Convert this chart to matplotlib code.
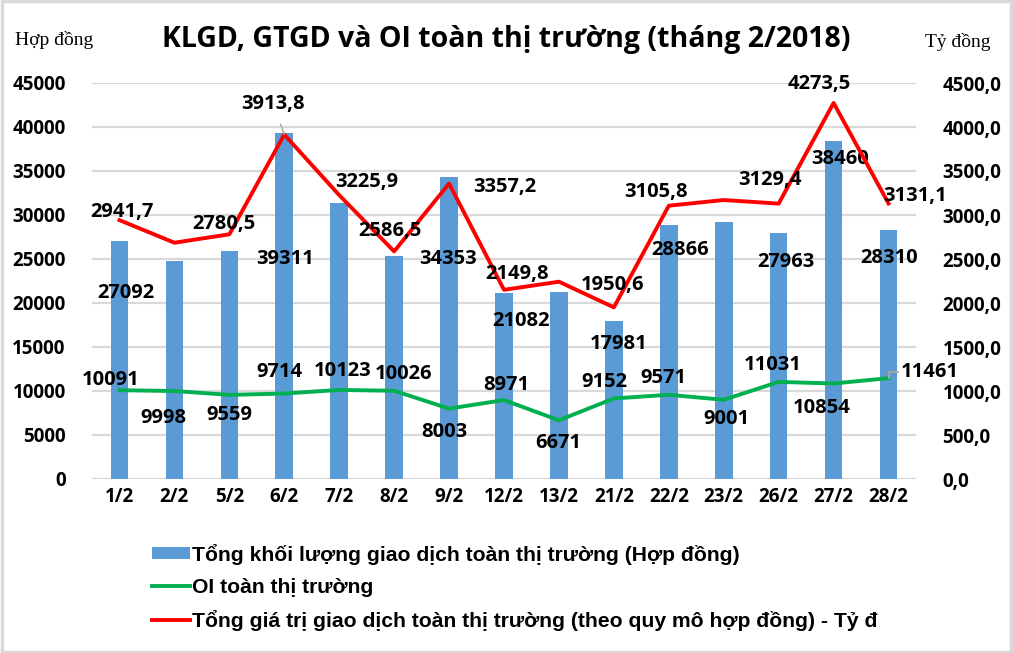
import matplotlib
matplotlib.use("Agg")
import matplotlib.pyplot as plt
from matplotlib.patches import Rectangle, Patch
from matplotlib.lines import Line2D
import numpy as np

# du lieu thang 2/2018
days = ["1/2", "2/2", "5/2", "6/2", "7/2", "8/2", "9/2", "12/2", "13/2",
        "21/2", "22/2", "23/2", "26/2", "27/2", "28/2"]
klgd = [27092, 24800, 25900, 39311, 31400, 25300, 34353, 21082, 21250,
        17981, 28866, 29200, 27963, 38460, 28310]
oi = [10091, 9998, 9559, 9714, 10123, 10026, 8003, 8971, 6671,
      9152, 9571, 9001, 11031, 10854, 11461]
gtgd = [2941.7, 2685, 2780.5, 3913.8, 3225.9, 2586.5, 3357.2, 2149.8, 2242,
        1950.6, 3105.8, 3170, 3129.4, 4273.5, 3131.1]
show_bar = [1, 0, 0, 1, 0, 0, 1, 1, 0, 1, 1, 0, 1, 1, 1]
show_red = [1, 0, 1, 1, 1, 1, 1, 1, 0, 1, 1, 0, 1, 1, 1]

# label offsets in pixels (dx, dy)
off_bar = [(6, -52), None, None, (1, -126), None, None, (-1, -82), (17, -28), None,
           (5, -23), (11, -25), None, (7, -29), (6, -18), (1, -28)]
off_red = [(3, 8), None, (-5, 10), (-11, 31), (28, 13), (-4, 20), (56, -3), (13, 16), None,
           (-1, 22), (-13, 14), None, (-9, 24), (-14, 19), (27, 7)]
off_oi = [(-9, 10), (-11, -27), (0, -20), (-5, 22), (3, 19), (9, 17), (-5, -23), (2, 15),
          (-1, -23), (-9, 16), (-5, 17), (3, -19), (-6, 17), (-12, -25), (41, 6)]

BLUE = "#5B9BD5"
GREEN = "#00B050"
RED = "#FF0000"
GRID = "#D9D9D9"
LEAD = "#A6A6A6"
NUMFONT = ["Open Sans", "DejaVu Sans"]

def fmt_vn(v):
    return ("%.1f" % v).replace(".", ",")

fig = plt.figure(figsize=(10.13, 6.53), dpi=100)
fig.patches.append(Rectangle((0.002, 0.002), 0.996, 0.996, transform=fig.transFigure,
                             fill=False, edgecolor="#D9D9D9", linewidth=2.5))

ax = fig.add_axes([92 / 1013, 1 - 479 / 653, 824 / 1013, 396 / 653])
ax2 = ax.twinx()
x = np.arange(len(days))

ax.bar(x, klgd, width=0.32, color=BLUE, zorder=2)
ax.plot(x, oi, color=GREEN, linewidth=2.8, zorder=3)
ax2.plot(x, gtgd, color=RED, linewidth=2.8, zorder=3)

ax.set_xlim(-0.5, len(days) - 0.5)
ax.set_ylim(0, 45000)
ax2.set_ylim(0, 4500)
ax.set_yticks(np.arange(0, 45001, 5000))
ax2.set_yticks(np.arange(0, 4501, 500))
ax.set_yticklabels([str(v) for v in range(0, 45001, 5000)])
ax2.set_yticklabels([fmt_vn(v) for v in range(0, 4501, 500)])
ax.set_xticks(x)
ax.set_xticklabels(days)
ax.grid(axis="y", color=GRID, linewidth=1.6, zorder=0)
ax.set_axisbelow(True)
for a in (ax, ax2):
    for s in ["top", "right", "left", "bottom"]:
        a.spines[s].set_visible(False)
    a.tick_params(length=0)
ax.tick_params(axis="y", pad=19)
ax.tick_params(axis="x", pad=6)
ax2.tick_params(axis="y", pad=19)
for lab in ax.get_xticklabels() + ax.get_yticklabels() + ax2.get_yticklabels():
    lab.set_fontfamily(NUMFONT)
    lab.set_fontweight("bold")
    lab.set_fontsize(13.5)

lblkw = dict(textcoords="offset pixels", ha="center", va="center",
             fontsize=14.5, fontweight="bold", family=NUMFONT, zorder=5)

for i in range(len(days)):
    if show_bar[i]:
        ax.annotate(str(klgd[i]), (x[i], klgd[i]), xytext=off_bar[i], **lblkw)
    if show_red[i]:
        if i == 3:
            ax2.annotate(fmt_vn(gtgd[i]), (x[i], gtgd[i]), xytext=off_red[i],
                         arrowprops=dict(arrowstyle="-", color=LEAD, lw=1,
                                         shrinkA=6, shrinkB=0), **lblkw)
        else:
            ax2.annotate(fmt_vn(gtgd[i]), (x[i], gtgd[i]), xytext=off_red[i], **lblkw)
    if i == 14:
        ax.annotate(str(oi[i]), (x[i], oi[i]), xytext=off_oi[i],
                    arrowprops=dict(arrowstyle="-", color=LEAD, lw=1.5, shrinkA=26, shrinkB=0,
                                    connectionstyle="angle,angleA=0,angleB=90,rad=0"),
                    **lblkw)
    else:
        ax.annotate(str(oi[i]), (x[i], oi[i]), xytext=off_oi[i], **lblkw)

fig.text(506 / 1013, 1 - 40 / 653, "KLGD, GTGD và OI toàn thị trường (tháng 2/2018)",
         ha="center", va="center", fontsize=20.5, fontweight="bold", family=NUMFONT)
fig.text(15 / 1013, 1 - 40 / 653, "Hợp đồng", ha="left", va="center",
         fontsize=14, family=["Liberation Serif", "DejaVu Serif"])
fig.text(925 / 1013, 1 - 42 / 653, "Tỷ đồng", ha="left", va="center",
         fontsize=14, family=["Liberation Serif", "DejaVu Serif"])

handles = [Patch(facecolor=BLUE),
           Line2D([], [], color=GREEN, linewidth=2.8),
           Line2D([], [], color=RED, linewidth=2.8)]
labels = ["Tổng khối lượng giao dịch toàn thị trường (Hợp đồng)",
          "OI toàn thị trường",
          "Tổng giá trị giao dịch toàn thị trường (theo quy mô hợp đồng) - Tỷ đ"]
fig.legend(handles, labels, loc="upper left", bbox_to_anchor=(141 / 1013, 1 - 533 / 653),
           frameon=False, handlelength=1.8, handleheight=0.55, handletextpad=0.1,
           labelspacing=0.62, borderpad=0,
           prop=dict(family=["Liberation Sans"], weight="bold", size=15.2))

fig.savefig("out.png", dpi=100)
